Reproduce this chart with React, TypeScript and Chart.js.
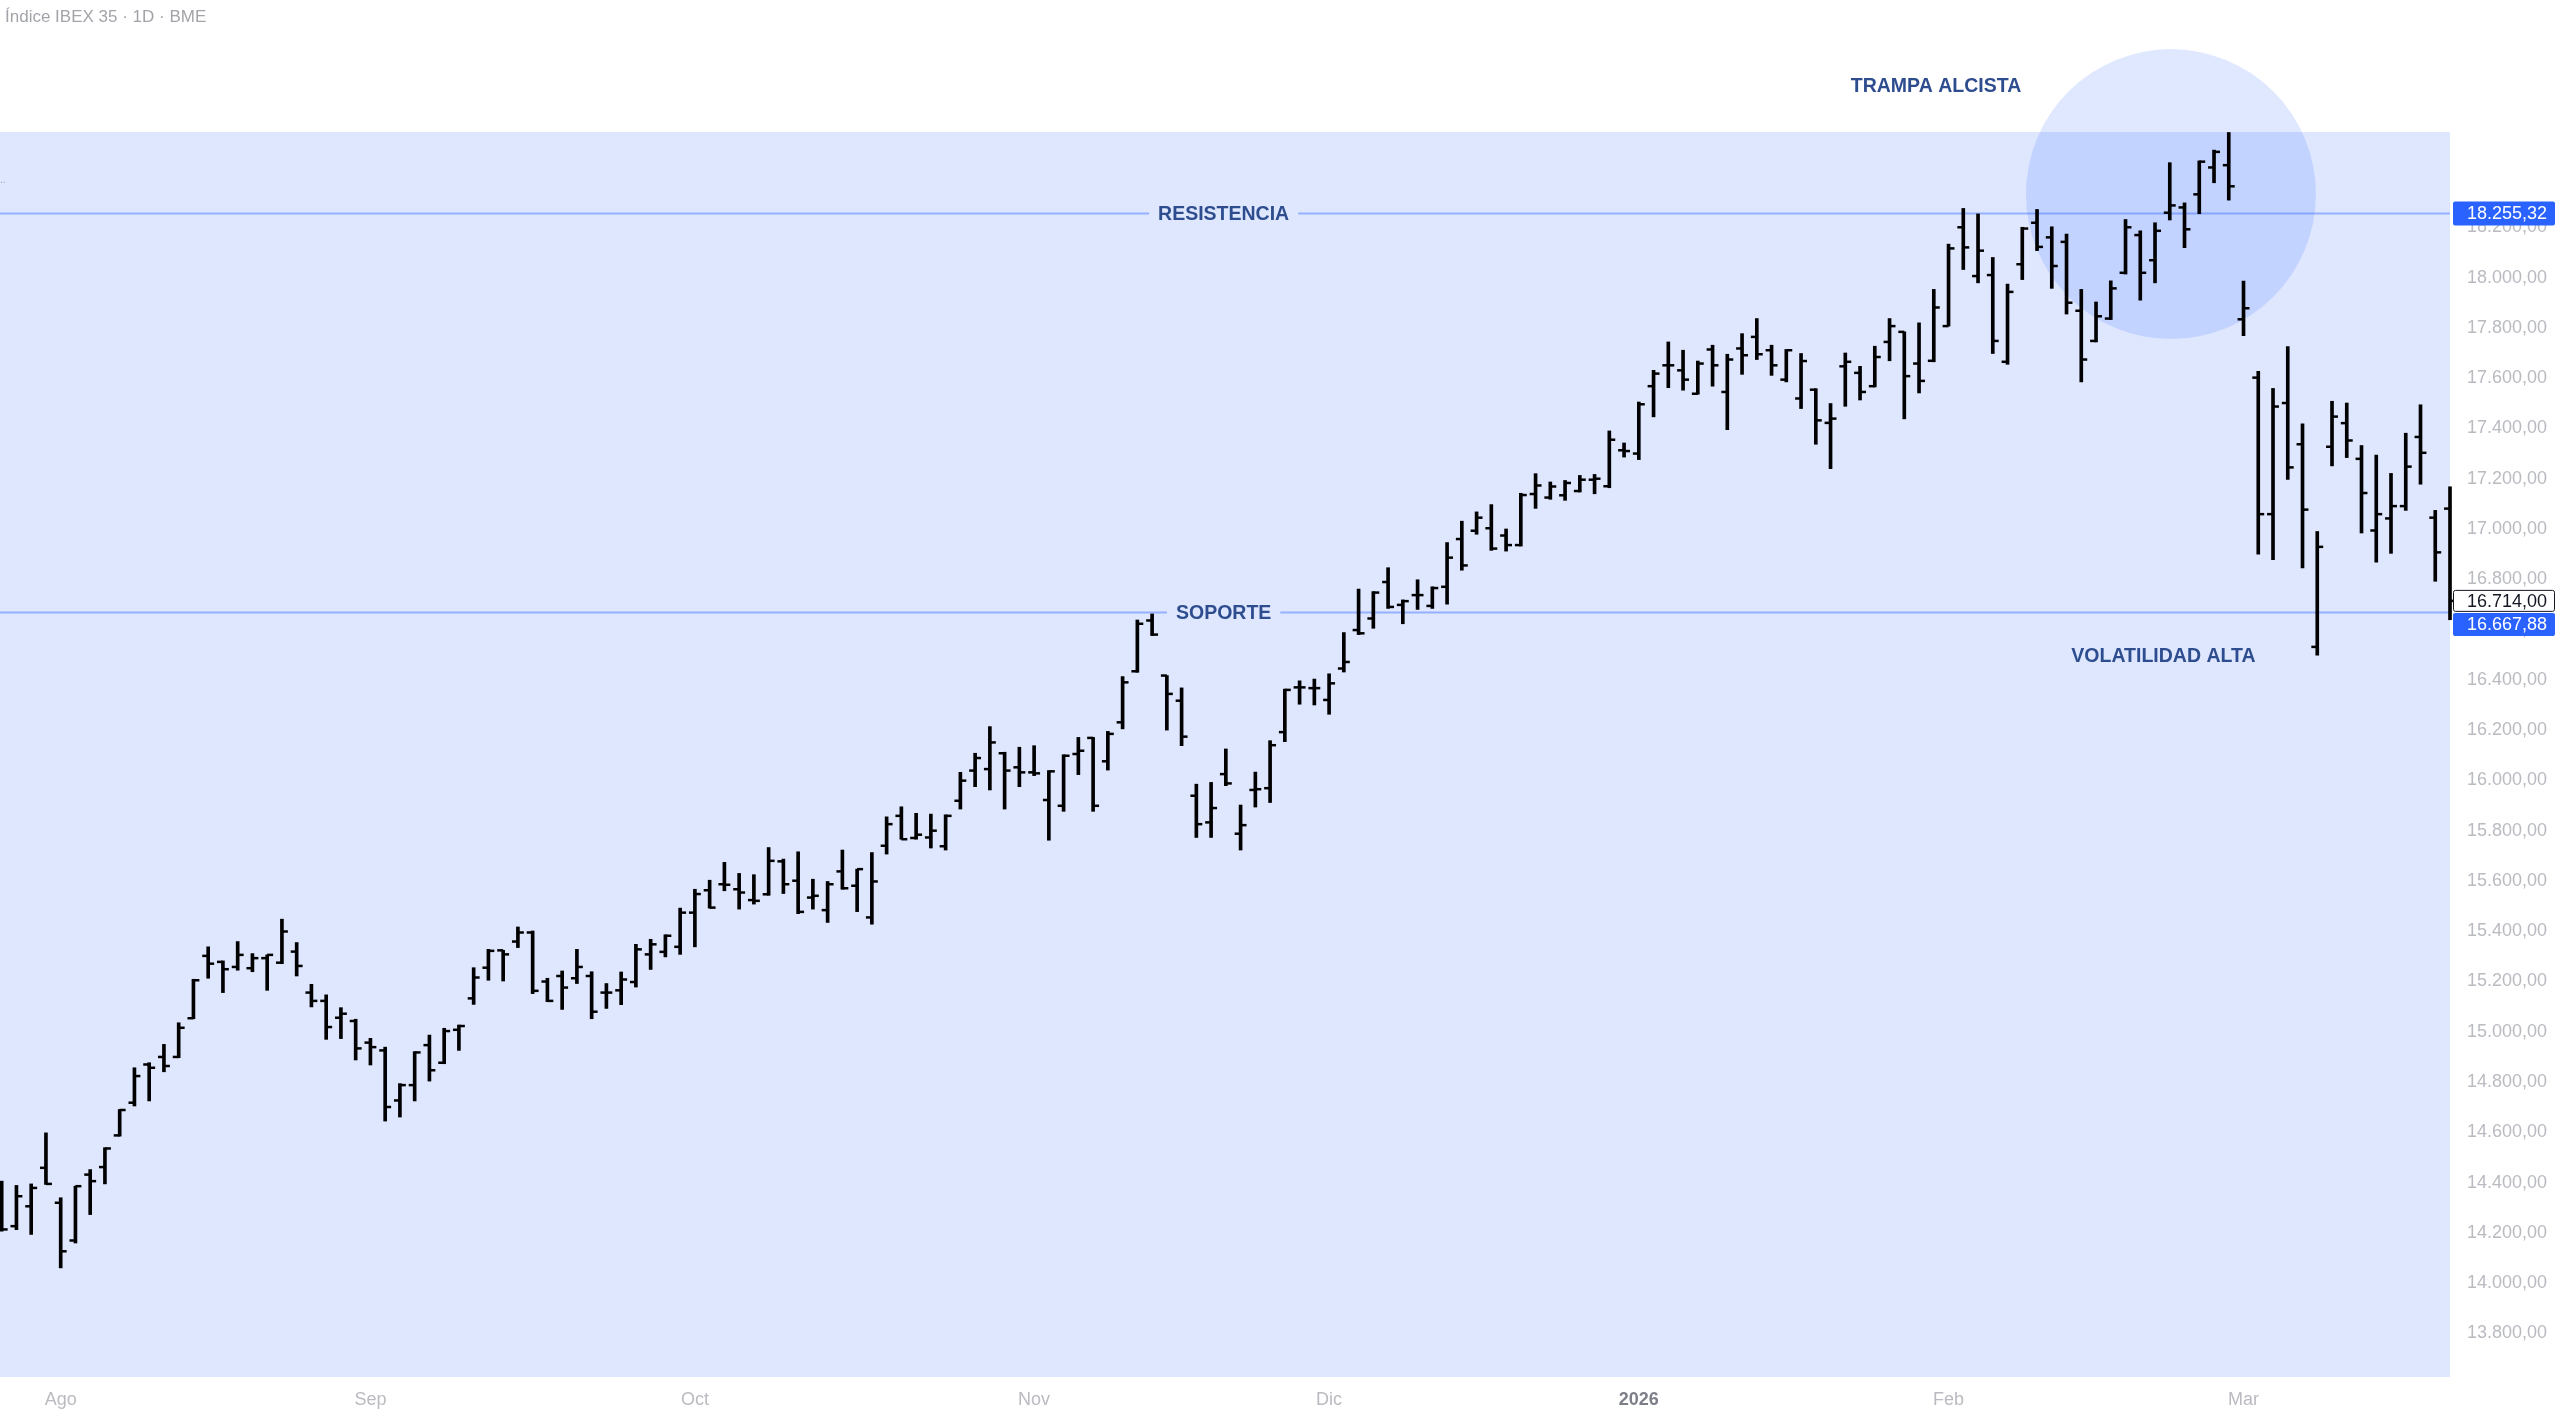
import React, { useEffect, useRef } from 'react';
import { Chart, registerables } from 'chart.js';

Chart.register(...registerables);

const TITLE = 'Índice IBEX 35 · 1D · BME';

const OPEN = [
  14308, 14227, 14306, 14459, 14320, 14170, 14432, 14462, 14588, 14718,
  14870, 14900, 14900, 15054, 15302, 15278, 15258, 15253, 15293, 15275,
  15319, 15156, 15123, 15056, 15043, 14957, 14926, 14727, 14788, 14947,
  14877, 15008, 15133, 15255, 15324, 15359, 15395, 15200, 15222, 15213,
  15222, 15156, 15165, 15198, 15308, 15318, 15338, 15474, 15563, 15587,
  15567, 15524, 15547, 15678, 15601, 15534, 15484, 15638, 15581, 15455,
  15740, 15859, 15771, 15773, 15738, 15919, 16039, 16045, 16108, 16052,
  16032, 15922, 15899, 16105, 16169, 16076, 16231, 16434, 16636, 16417,
  16317, 15939, 15833, 16025, 15788, 15962, 15969, 16192, 16370, 16367,
  16320, 16445, 16598, 16644, 16789, 16698, 16737, 16694, 16770, 16960,
  16993, 17003, 16974, 16936, 17139, 17125, 17134, 17151, 17196, 17170,
  17313, 17300, 17568, 17651, 17631, 17538, 17714, 17545, 17718, 17764,
  17711, 17594, 17519, 17554, 17422, 17647, 17621, 17568, 17744, 17784,
  17658, 17669, 17807, 18200, 18006, 18010, 17665, 18053, 18218, 18160,
  18142, 17868, 17748, 17837, 18019, 18169, 18069, 18258, 18279, 18331,
  18438, 18447, 17834, 17602, 17059, 17501, 17337, 16531, 17327, 17421,
  17279, 16994, 17042, 17091, 17366, 17045, 17081,
];

const HIGH = [
  14406, 14389, 14395, 14598, 14340, 14386, 14452, 14539, 14691, 14857,
  14877, 14950, 15036, 15209, 15338, 15282, 15359, 15311, 15306, 15448,
  15355, 15189, 15147, 15096, 15050, 14974, 14939, 14794, 14921, 14987,
  15014, 15027, 15255, 15328, 15324, 15417, 15401, 15213, 15242, 15328,
  15239, 15192, 15238, 15348, 15368, 15386, 15492, 15567, 15603, 15674,
  15630, 15625, 15733, 15687, 15716, 15607, 15598, 15723, 15647, 15713,
  15855, 15895, 15869, 15866, 15863, 16032, 16108, 16214, 16112, 16132,
  16138, 16039, 16102, 16171, 16171, 16195, 16413, 16638, 16662, 16417,
  16368, 15985, 15992, 16125, 15902, 16033, 16158, 16363, 16396, 16403,
  16424, 16588, 16761, 16751, 16846, 16718, 16798, 16770, 16946, 17031,
  17068, 17097, 17000, 17142, 17220, 17187, 17193, 17213, 17217, 17390,
  17342, 17505, 17631, 17744, 17711, 17668, 17731, 17695, 17777, 17837,
  17731, 17714, 17698, 17558, 17499, 17700, 17647, 17727, 17837, 17784,
  17820, 17953, 18133, 18275, 18253, 18080, 17974, 18200, 18271, 18202,
  18173, 17953, 17903, 17987, 18231, 18186, 18218, 18457, 18297, 18464,
  18507, 18577, 17986, 17627, 17559, 17726, 17418, 16990, 17508, 17501,
  17332, 17294, 17221, 17381, 17494, 17074, 17168,
];

const LOW = [
  14207, 14213, 14194, 14393, 14061, 14160, 14273, 14395, 14585, 14705,
  14725, 14841, 14897, 15052, 15213, 15156, 15245, 15239, 15165, 15271,
  15222, 15099, 14970, 14973, 14888, 14868, 14645, 14661, 14725, 14804,
  14873, 14926, 15109, 15205, 15202, 15335, 15152, 15120, 15089, 15192,
  15052, 15093, 15108, 15178, 15248, 15298, 15308, 15338, 15492, 15561,
  15488, 15508, 15543, 15550, 15470, 15488, 15435, 15567, 15478, 15428,
  15707, 15766, 15766, 15731, 15723, 15886, 15975, 15962, 15886, 15975,
  16019, 15762, 15877, 16023, 15877, 16041, 16205, 16430, 16576, 16200,
  16138, 15773, 15773, 15979, 15723, 15894, 15912, 16154, 16303, 16300,
  16263, 16431, 16580, 16605, 16684, 16623, 16680, 16684, 16701, 16836,
  16979, 16915, 16912, 16932, 17082, 17118, 17114, 17147, 17140, 17164,
  17286, 17276, 17446, 17562, 17552, 17536, 17568, 17395, 17615, 17674,
  17611, 17585, 17479, 17337, 17240, 17488, 17513, 17565, 17669, 17438,
  17541, 17665, 17807, 18032, 17979, 17698, 17655, 17992, 18107, 17957,
  17855, 17585, 17744, 17833, 18014, 17910, 17979, 18229, 18119, 18254,
  18377, 18308, 17769, 16900, 16878, 17197, 16845, 16498, 17251, 17284,
  16984, 16868, 16903, 17074, 17178, 16792, 16639,
];

const CLOSE = [
  14214, 14346, 14379, 14395, 14127, 14386, 14406, 14536, 14689, 14824,
  14857, 14864, 15016, 15205, 15271, 15249, 15306, 15293, 15306, 15399,
  15262, 15123, 15019, 15072, 14934, 14939, 14701, 14788, 14918, 14847,
  15003, 15023, 15216, 15322, 15308, 15395, 15163, 15123, 15176, 15258,
  15080, 15156, 15208, 15328, 15348, 15382, 15474, 15548, 15494, 15585,
  15554, 15521, 15680, 15587, 15477, 15541, 15587, 15571, 15647, 15598,
  15826, 15766, 15784, 15800, 15859, 15999, 16089, 16151, 16039, 16032,
  16028, 16036, 16098, 16118, 15899, 16185, 16390, 16623, 16580, 16344,
  16174, 15826, 15890, 15988, 15822, 15965, 16140, 16360, 16370, 16367,
  16386, 16471, 16585, 16747, 16690, 16713, 16737, 16765, 16886, 16855,
  17045, 16922, 16936, 17135, 17173, 17169, 17183, 17196, 17200, 17355,
  17310, 17496, 17618, 17651, 17594, 17658, 17651, 17674, 17691, 17695,
  17651, 17711, 17668, 17432, 17439, 17665, 17545, 17684, 17807, 17608,
  17589, 17881, 18116, 18120, 18107, 17748, 17943, 18195, 18122, 18046,
  17900, 17674, 17846, 17957, 18200, 18019, 18186, 18287, 18192, 18461,
  18500, 18363, 17878, 17059, 17487, 17245, 17077, 16929, 17447, 17352,
  17143, 17059, 17091, 17248, 17303, 16907, 16714,
];

// first trading session of each month (bar index) and its label
const MONTH_TICKS = [4, 25, 47, 70, 90, 111, 132, 152];
const MONTH_LABELS = ['Ago', 'Sep', 'Oct', 'Nov', 'Dic', '2026', 'Feb', 'Mar'];

const Y_TICKS = [
  13800, 14000, 14200, 14400, 14600, 14800, 15000, 15200, 15400, 15600, 15800,
  16000, 16200, 16400, 16600, 16800, 17000, 17200, 17400, 17600, 17800, 18000, 18200,
];

const RESISTANCE = 18255.32;
const SUPPORT = 16667.88;

// annotation anchors (bar index, price)
const NOTES = [
  { text: 'RESISTENCIA', x: 82.85, y: RESISTANCE, gap: true },
  { text: 'SOPORTE', x: 82.85, y: SUPPORT, gap: true },
  { text: 'TRAMPA ALCISTA', x: 131.15, y: 18764, gap: false },
  { text: 'VOLATILIDAD ALTA', x: 146.57, y: 16498, gap: false },
];
const TRAP_CIRCLE = { x: 147.08, y: 18332, r: 145 };

const X_MIN = -0.115;
const X_MAX = 166;
const Y_MIN = 13627;
const Y_MAX = 18579;

const BG = '#DFE7FF';
const LINE_COLOR = 'rgba(41,98,255,0.4)';
const NAVY = '#2E4D8F';
const AXIS_TXT = '#B9BBC1';
const BLUE = '#2962FF';
const FONT = '"Liberation Sans", Arial, Helvetica, sans-serif';

function fmtPrice(v: number): string {
  const [i, d] = v.toFixed(2).split('.');
  return i.replace(/\B(?=(\d{3})+(?!\d))/g, '.') + ',' + d;
}

function roundRect(ctx: CanvasRenderingContext2D, x: number, y: number, w: number, h: number, r: number) {
  ctx.beginPath();
  ctx.moveTo(x + r, y);
  ctx.lineTo(x + w - r, y);
  ctx.quadraticCurveTo(x + w, y, x + w, y + r);
  ctx.lineTo(x + w, y + h - r);
  ctx.quadraticCurveTo(x + w, y + h, x + w - r, y + h);
  ctx.lineTo(x + r, y + h);
  ctx.quadraticCurveTo(x, y + h, x, y + h - r);
  ctx.lineTo(x, y + r);
  ctx.quadraticCurveTo(x, y, x + r, y);
  ctx.closePath();
}

export default function App() {
  const ref = useRef<HTMLCanvasElement>(null);

  useEffect(() => {
    document.body.style.margin = '0';
    document.body.style.overflow = 'hidden';
    const canvas = ref.current;
    if (!canvas) return;

    const decor = {
      id: 'decor',
      beforeDraw(chart: any) {
        const { ctx, chartArea: a } = chart;
        ctx.save();
        ctx.fillStyle = '#ffffff';
        ctx.fillRect(0, 0, chart.width, chart.height);
        ctx.fillStyle = BG;
        ctx.fillRect(a.left, a.top, a.right - a.left, a.bottom - a.top);
        ctx.restore();
      },
      afterDatasetsDraw(chart: any) {
        const { ctx } = chart;
        const xs = chart.scales.x;
        const ys = chart.scales.y;
        ctx.save();
        ctx.font = `bold 19.5px ${FONT}`;
        ctx.textAlign = 'center';
        ctx.textBaseline = 'middle';
        for (const n of NOTES) {
          const px = xs.getPixelForValue(n.x);
          const py = ys.getPixelForValue(n.y);
          if (n.gap) {
            const w = ctx.measureText(n.text).width;
            ctx.fillStyle = BG;
            ctx.fillRect(px - w / 2 - 9, py - 3, w + 18, 6);
          }
          ctx.fillStyle = NAVY;
          ctx.fillText(n.text, px, py + 1);
        }
        ctx.restore();
      },
      afterDraw(chart: any) {
        const { ctx, chartArea: a } = chart;
        const ys = chart.scales.y;
        ctx.save();
        // title
        ctx.font = `17px ${FONT}`;
        ctx.fillStyle = '#A2A4AA';
        ctx.textAlign = 'left';
        ctx.textBaseline = 'middle';
        ctx.fillText(TITLE, 5, 17);
        ctx.font = `10px ${FONT}`;
        ctx.fillText('..', 0, 180);

        // price labels on the axis
        const bx = a.right + 3;
        const bw = 102;
        const tx = a.right + 17;
        ctx.font = `18px ${FONT}`;
        const last = CLOSE[CLOSE.length - 1];

        const ry = ys.getPixelForValue(RESISTANCE);
        ctx.fillStyle = BLUE;
        roundRect(ctx, bx, ry - 12, bw, 24, 2);
        ctx.fill();
        ctx.fillStyle = '#ffffff';
        ctx.fillText(fmtPrice(RESISTANCE), tx, ry + 1);

        const ly = ys.getPixelForValue(last);
        const lTop = ly - 11;
        ctx.fillStyle = '#ffffff';
        roundRect(ctx, bx + 0.5, lTop + 0.5, bw - 1, 21, 2);
        ctx.fill();
        ctx.strokeStyle = '#131722';
        ctx.lineWidth = 1;
        ctx.stroke();
        ctx.fillStyle = '#131722';
        ctx.fillText(fmtPrice(last), tx, ly + 1);

        const sy = ys.getPixelForValue(SUPPORT);
        const sTop = Math.max(sy - 12, lTop + 23);
        ctx.fillStyle = BLUE;
        roundRect(ctx, bx, sTop, bw, 23, 2);
        ctx.fill();
        ctx.fillStyle = '#ffffff';
        ctx.fillText(fmtPrice(SUPPORT), tx, sTop + 12.5);
        ctx.restore();
      },
    };

    const chart = new Chart(canvas, {
      type: 'bar',
      data: {
        datasets: [
          {
            type: 'bubble',
            data: [{ x: TRAP_CIRCLE.x, y: TRAP_CIRCLE.y, r: TRAP_CIRCLE.r }],
            backgroundColor: 'rgba(41,98,255,0.15)',
            borderWidth: 0,
            clip: false,
            order: 10,
          } as any,
          {
            type: 'line',
            data: [{ x: X_MIN, y: RESISTANCE }, { x: X_MAX, y: RESISTANCE }],
            borderColor: LINE_COLOR,
            borderWidth: 2,
            pointRadius: 0,
            order: 5,
          } as any,
          {
            type: 'line',
            data: [{ x: X_MIN, y: SUPPORT }, { x: X_MAX, y: SUPPORT }],
            borderColor: LINE_COLOR,
            borderWidth: 2,
            pointRadius: 0,
            order: 5,
          } as any,
          {
            type: 'bar',
            data: HIGH.map((h, i) => ({ x: i, y: [LOW[i], h] })),
            backgroundColor: '#000000',
            borderWidth: 0,
            barThickness: 3,
            grouped: false,
            clip: { left: 0, top: 0, right: 3, bottom: 0 },
            order: 2,
          } as any,
          {
            type: 'scatter',
            data: OPEN.map((o, i) => ({ x: i - 0.2, y: o })),
            pointStyle: 'line',
            pointRadius: 3,
            pointBorderWidth: 2.5,
            pointBorderColor: '#000000',
            showLine: false,
            order: 1,
          } as any,
          {
            type: 'scatter',
            data: CLOSE.map((c, i) => ({ x: i + 0.2, y: c })),
            pointStyle: 'line',
            pointRadius: 3,
            pointBorderWidth: 2.5,
            pointBorderColor: '#000000',
            showLine: false,
            clip: { left: 0, top: 0, right: 3, bottom: 0 },
            order: 1,
          } as any,
        ],
      },
      options: {
        animation: false,
        responsive: false,
        devicePixelRatio: 1,
        events: [],
        layout: { autoPadding: false, padding: { top: 132, left: 0, right: 0, bottom: 0 } },
        plugins: {
          legend: { display: false },
          tooltip: { enabled: false },
          title: { display: false },
        },
        scales: {
          x: {
            type: 'linear',
            position: 'bottom',
            min: X_MIN,
            max: X_MAX,
            offset: false,
            grid: { display: false, drawTicks: false },
            border: { display: false },
            afterBuildTicks: (s: any) => {
              s.ticks = MONTH_TICKS.map((v) => ({ value: v }));
            },
            afterFit: (s: any) => {
              s.height = 35;
            },
            ticks: {
              autoSkip: false,
              maxRotation: 0,
              padding: 12,
              callback: (v: any) => MONTH_LABELS[MONTH_TICKS.indexOf(Number(v))] ?? '',
              font: (c: any) => {
                const lbl = c.tick ? MONTH_LABELS[MONTH_TICKS.indexOf(c.tick.value)] : '';
                return { family: FONT, size: 18, weight: lbl === '2026' ? 'bold' : 'normal' };
              },
              color: (c: any) => {
                const lbl = c.tick ? MONTH_LABELS[MONTH_TICKS.indexOf(c.tick.value)] : '';
                return lbl === '2026' ? '#7C7F88' : AXIS_TXT;
              },
            },
          },
          y: {
            type: 'linear',
            position: 'right',
            min: Y_MIN,
            max: Y_MAX,
            grid: { display: false, drawTicks: false },
            border: { display: false },
            afterBuildTicks: (s: any) => {
              s.ticks = Y_TICKS.map((v) => ({ value: v }));
            },
            afterFit: (s: any) => {
              s.width = 110;
            },
            ticks: {
              padding: 17,
              font: { family: FONT, size: 18 },
              color: AXIS_TXT,
              callback: (v: any) => fmtPrice(Number(v)),
            },
          },
        },
      } as any,
      plugins: [decor],
    });

    return () => chart.destroy();
  }, []);

  return (
    <div style={{ position: 'absolute', left: 0, top: 0, width: 2560, height: 1412, background: '#ffffff' }}>
      <canvas ref={ref} width={2560} height={1412} style={{ display: 'block', width: 2560, height: 1412 }} />
    </div>
  );
}
